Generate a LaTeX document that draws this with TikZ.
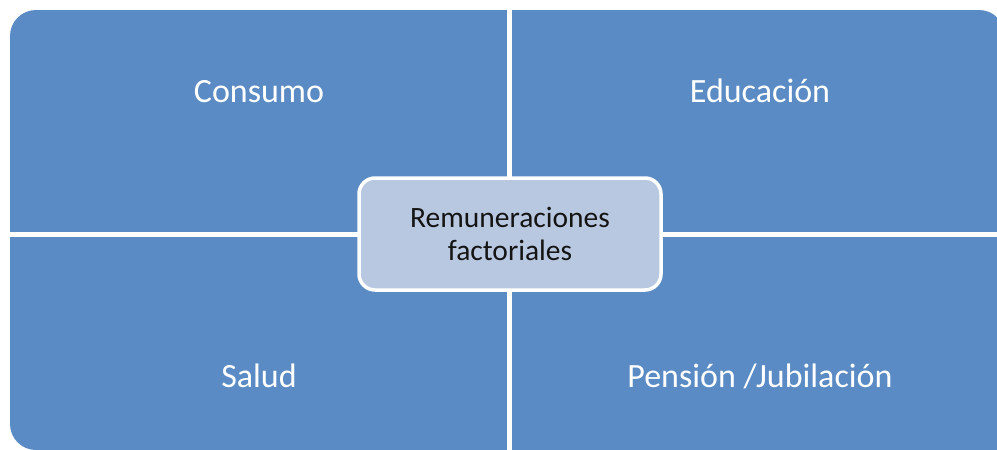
\documentclass[tikz,border=0pt]{standalone}
\usepackage{fontspec}
\setmainfont{Carlito}
\usepackage{tikz}
\usetikzlibrary{positioning}
\definecolor{cuadro}{RGB}{91,139,196}
\definecolor{centrofill}{RGB}{185,200,225}
\definecolor{textocentro}{RGB}{20,20,20}
\tikzset{
	cuadrante/.style={fill=cuadro, draw=none},
	etiqueta/.style={anchor=base, text=white, inner sep=0pt, font=\fontsize{34}{40}\selectfont},
	centro/.style={draw=white, line width=3.5pt, fill=centrofill, rounded corners=16pt,
		minimum width=302pt, minimum height=112pt, inner sep=0pt, align=center,
		text=textocentro, font=\fontsize{29.5}{33}\selectfont},
}
\begin{document}
\begin{tikzpicture}[x=1pt,y=-1pt]
	\useasboundingbox (0,0) rectangle (997,450);
	% los cuatro cuadrantes
	\begin{scope}
		\clip[rounded corners=26pt] (10,10) rectangle (1005,450);
		\fill[cuadrante] (10,10) rectangle (507,232);
		\fill[cuadrante] (512,10) rectangle (1005,232);
		\fill[cuadrante] (10,237) rectangle (507,450);
	\end{scope}
	\fill[cuadrante] (512,237) rectangle (1005,450);
	%
	\node[etiqueta] (consumo) at (259,102) {Consumo};
	\node[etiqueta] (educacion) at (760,102) {Educación};
	\node[etiqueta] (salud) at (259,387) {Salud};
	\node[etiqueta] (pension) at (760,387) {Pensión /Jubilación};
	%
	\node[centro] (remuneraciones) at (510,234) {Remuneraciones\\factoriales};
\end{tikzpicture}
\end{document}
